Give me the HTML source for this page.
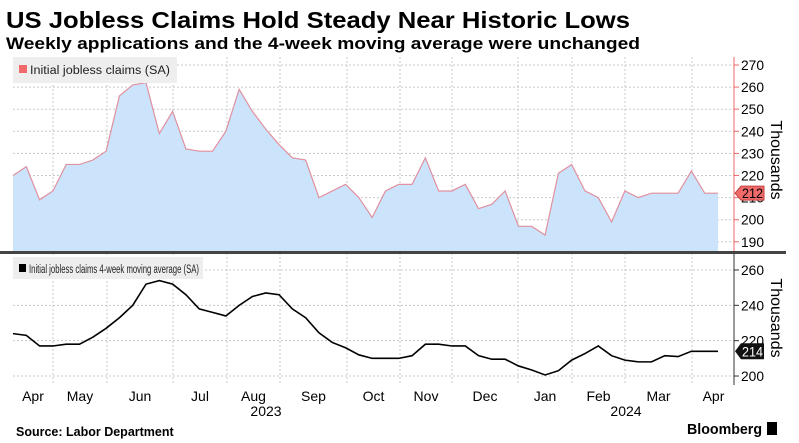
<!DOCTYPE html>
<html><head><meta charset="utf-8"><style>
body{margin:0;background:#fff;font-family:"Liberation Sans",sans-serif}
svg{display:block}
text{font-family:"Liberation Sans",sans-serif}
</style></head><body>
<svg id="c" width="799" height="443" viewBox="0 0 799 443" xmlns="http://www.w3.org/2000/svg">
<text x="6" y="28" font-size="23" font-weight="bold" fill="#000" textLength="624" lengthAdjust="spacingAndGlyphs">US Jobless Claims Hold Steady Near Historic Lows</text>
<text x="6" y="49" font-size="16.5" font-weight="bold" fill="#000" textLength="634" lengthAdjust="spacingAndGlyphs">Weekly applications and the 4-week moving average were unchanged</text>
<g id="grid"></g>
<g id="top"></g>
<g id="bot"></g>
<rect x="0" y="251" width="786" height="3" fill="#444"/>
<rect x="13" y="57" width="164" height="26" fill="#eeeeee"/>
<rect x="19" y="65" width="8" height="8" fill="#f06a6a"/>
<text x="30" y="74" font-size="11.5" fill="#222" textLength="140" lengthAdjust="spacingAndGlyphs">Initial jobless claims (SA)</text>
<rect x="13" y="257" width="190" height="22" fill="#eeeeee"/>
<rect x="19" y="264" width="7" height="8" fill="#000"/>
<text x="29" y="273" font-size="11.5" fill="#222" textLength="170" lengthAdjust="spacingAndGlyphs">Initial jobless claims 4-week moving average (SA)</text>
<text transform="translate(771,160) rotate(90)" font-size="16" fill="#000" text-anchor="middle">Thousands</text>
<text transform="translate(771,318) rotate(90)" font-size="16" fill="#000" text-anchor="middle">Thousands</text>
<g id="xax"></g>
<text x="266" y="416" font-size="14" text-anchor="middle">2023</text>
<text x="626" y="416" font-size="14" text-anchor="middle">2024</text>
<text x="16" y="436" font-size="12.5" font-weight="bold">Source: Labor Department</text>
<text x="762" y="434" font-size="15" font-weight="bold" text-anchor="end" textLength="75" lengthAdjust="spacingAndGlyphs">Bloomberg</text>
<rect x="767" y="422" width="10" height="13" fill="#000"/>
</svg>
<script>
const claims=[220,224,209,213,225,225,227,231,256,261,262,239,249,232,231,231,240,259,249,241,234,228,227,210,213,216,210,201,213,216,216,228,213,213,216,205,207,213,197,197,193,221,225,213,210,199,213,210,212,212,212,222,212,212];
const avg=[224,223,217,217,218,218,222,227,233,240,252,254,252,246,238,236,234,240,245,247,246,238,233,224.5,219,216,212,210,210,210,211.5,218,218,217,217,211.5,209.5,209.5,205.7,203.4,200.6,203,209,212.7,217,211.5,209,208,208,211.5,211,214,214,214];
const months=["Apr","May","Jun","Jul","Aug","Sep","Oct","Nov","Dec","Jan","Feb","Mar","Apr"];
const topTicks=[190,200,210,220,230,240,250,260,270];
const botTicks=[200,220,240,260];
const monthBounds=[13,53,107,173,227,280,347,400,452,518,572,625,692,735];
const NS="http://www.w3.org/2000/svg";
const X0=13,X1=718;
const x=i=>X0+i*(X1-X0)/(claims.length-1);
const yT=v=>65+(270-v)*2.21;
const yB=v=>270+(260-v)*1.767;
function mk(tag,attrs,parent){const e=document.createElementNS(NS,tag);for(const k in attrs)e.setAttribute(k,attrs[k]);parent.appendChild(e);return e;}
const grid=document.getElementById('grid'),top_=document.getElementById('top'),bot=document.getElementById('bot'),xax=document.getElementById('xax');
monthBounds.slice(1,-1).forEach(b=>{
 const l=mk('line',{x1:b,x2:b,y1:57,y2:385,stroke:'#c8c8c8','stroke-dasharray':'2,2'},grid);
 
 
});
topTicks.forEach(t=>{
 const l=mk('line',{x1:13,x2:734,y1:yT(t),y2:yT(t),stroke:'#c8c8c8','stroke-dasharray':'2,2'},grid);
 
 
});
botTicks.forEach(t=>{
 const l=mk('line',{x1:13,x2:734,y1:yB(t),y2:yB(t),stroke:'#c8c8c8','stroke-dasharray':'2,2'},grid);
 
 
});
let d='M'+x(0)+',252 '+claims.map((v,i)=>'L'+x(i)+','+yT(v)).join(' ')+' L'+x(claims.length-1)+',252Z';
const area=mk('path',{d:d,fill:'#cce4fb'},top_);


const ln=mk('polyline',{points:claims.map((v,i)=>x(i)+','+yT(v)).join(' '),fill:'none',stroke:'#e0909e','stroke-width':1.2},top_);


const ax=mk('line',{x1:734,x2:734,y1:57,y2:252,stroke:'#f06a6a'},top_);


topTicks.forEach(t=>{
 mk('line',{x1:734,x2:739,y1:yT(t),y2:yT(t),stroke:'#f06a6a'},top_);
 const tx=mk('text',{x:741,y:yT(t)+5,'font-size':14,fill:'#000',textLength:23,lengthAdjust:'spacingAndGlyphs'},top_);
 tx.textContent=t;
 
 
});
const lt=claims[claims.length-1],ly=yT(lt);
const bd=mk('path',{d:`M735,${ly} L741,${ly-7} L764,${ly-7} L764,${ly+7} L741,${ly+7}Z`,fill:'#f06a6a',stroke:'#c04040'},top_);


const bt=mk('text',{x:742,y:ly+5,'font-size':14,fill:'#000',textLength:21,lengthAdjust:'spacingAndGlyphs'},top_);
bt.textContent=lt;


const ln2=mk('polyline',{points:avg.map((v,i)=>x(i)+','+yB(v)).join(' '),fill:'none',stroke:'#000','stroke-width':1.6},bot);


const ax2=mk('line',{x1:734,x2:734,y1:254,y2:385,stroke:'#333'},bot);


botTicks.forEach(t=>{
 mk('line',{x1:734,x2:739,y1:yB(t),y2:yB(t),stroke:'#333'},bot);
 const tx=mk('text',{x:741,y:yB(t)+5,'font-size':14,fill:'#000',textLength:23,lengthAdjust:'spacingAndGlyphs'},bot);
 tx.textContent=t;
 
 
});
const la=avg[avg.length-1],lb=yB(la);
const bd2=mk('path',{d:`M735,${lb} L741,${lb-8} L764,${lb-8} L764,${lb+8} L741,${lb+8}Z`,fill:'#111'},bot);


const bt2=mk('text',{x:742,y:lb+5,'font-size':14,fill:'#fff',textLength:21,lengthAdjust:'spacingAndGlyphs'},bot);
bt2.textContent=Math.round(la);


months.forEach((m,i)=>{
 const cx=(monthBounds[i]+monthBounds[i+1])/2;
 const tx=mk('text',{x:cx,y:401,'font-size':14,'text-anchor':'middle',fill:'#000'},xax);
 tx.textContent=m;
 
 
});
</script>
</body></html>
